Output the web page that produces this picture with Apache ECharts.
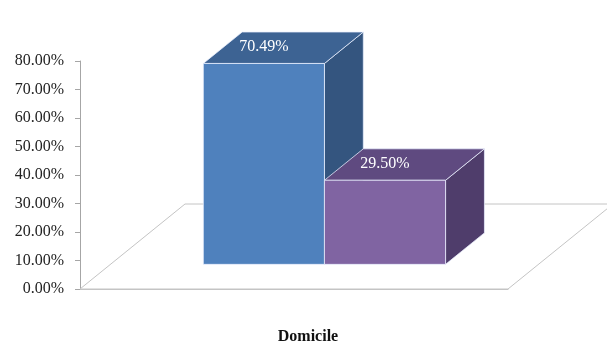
<!DOCTYPE html>
<html>
<head>
<meta charset="utf-8">
<script src="https://cdn.jsdelivr.net/npm/echarts@6/dist/echarts.min.js"></script>
<style>
html,body{margin:0;padding:0;background:#fff;}
#chart{width:607px;height:347px;}
</style>
</head>
<body>
<div id="chart"></div>
<script>
// ---- data ----
const categories = ['Domicile'];
const seriesNames = ['Urban', 'Rural'];
const urbanValues = [70.49];
const ruralValues = [29.50];
const yMin = 0, yMax = 80, yInterval = 10;

// ---- 3D look ----
const SERIF = '"Liberation Serif", "DejaVu Serif", serif';
const DEPTH = { x: 105, y: -85 };   // floor depth vector
const FRONT_FRAC = 0.29;             // bar front position inside floor depth
const BAR_DEPTH_FRAC = 0.37;         // bar depth as fraction of floor depth
const BAR_WIDTH_FRAC = 0.283;        // bar width as fraction of category band
const palettes = [
  { front: '#4f81bd', top: '#3d6393', side: '#34557f' },
  { front: '#8064a2', top: '#5f4a80', side: '#4f3d6b' }
];

function barRenderer(idx) {
  return function (params, api) {
    const cat = api.value(0), val = api.value(1);
    const base = api.coord([cat, 0]);
    const top = api.coord([cat, val]);
    const band = api.size([1, 0])[0];
    const w = band * BAR_WIDTH_FRAC;
    const fx = DEPTH.x * FRONT_FRAC, fy = DEPTH.y * FRONT_FRAC;
    const dx = DEPTH.x * BAR_DEPTH_FRAC, dy = DEPTH.y * BAR_DEPTH_FRAC;
    const x0 = base[0] - w + idx * w + fx;
    const x1 = x0 + w;
    const yb = base[1] + fy;
    const yt = top[1] + fy;
    const c = palettes[idx];
    const edge = { stroke: 'rgba(235,240,255,0.75)', lineWidth: 1 };
    return {
      type: 'group',
      children: [
        { type: 'polygon', shape: { points: [[x1, yt], [x1 + dx, yt + dy], [x1 + dx, yb + dy], [x1, yb]] },
          style: Object.assign({ fill: c.side }, edge) },
        { type: 'polygon', shape: { points: [[x0, yt], [x1, yt], [x1 + dx, yt + dy], [x0 + dx, yt + dy]] },
          style: Object.assign({ fill: c.top }, edge) },
        { type: 'rect', shape: { x: x0, y: yt, width: w, height: yb - yt },
          style: Object.assign({ fill: c.front }, edge) },
        { type: 'text', x: (x0 + x1) / 2, y: yt + dy / 2 - 1,
          style: { text: val.toFixed(2) + '%', fill: '#ffffff', font: '16px ' + SERIF,
                   textAlign: 'center', textVerticalAlign: 'middle' } }
      ]
    };
  };
}

function floorRenderer(params, api) {
  const cs = params.coordSys;
  const xl = cs.x, xr = cs.x + cs.width, yb = cs.y + cs.height;
  return {
    type: 'polygon',
    shape: { points: [[xl, yb], [xr, yb], [xr + DEPTH.x, yb + DEPTH.y], [xl + DEPTH.x, yb + DEPTH.y]] },
    style: { fill: 'none', stroke: '#c4c4c4', lineWidth: 1 }
  };
}

const chart = echarts.init(document.getElementById('chart'), null, { renderer: 'canvas' });
chart.setOption({
  animation: false,
  backgroundColor: '#ffffff',
  grid: { left: 80, right: 99, top: 61, bottom: 58, containLabel: false },
  xAxis: {
    type: 'category',
    data: categories,
    axisLine: { show: true, lineStyle: { color: '#c4c4c4', width: 1 } },
    axisTick: { show: false },
    axisLabel: {
      margin: 40, color: '#111', fontFamily: SERIF, fontSize: 16, fontWeight: 'bold',
      padding: [0, 0, 0, 28]
    }
  },
  yAxis: {
    type: 'value',
    min: yMin, max: yMax, interval: yInterval,
    axisLine: { show: true, lineStyle: { color: '#a6a6a6', width: 1 } },
    axisTick: { show: true, inside: false, length: 5, lineStyle: { color: '#a6a6a6' } },
    splitLine: { show: false },
    axisLabel: {
      margin: 16, color: '#222', fontFamily: SERIF, fontSize: 16,
      formatter: function (v) { return v.toFixed(2) + '%'; }
    }
  },
  series: [
    { type: 'custom', name: 'floor', z: 1, silent: true, renderItem: floorRenderer,
      data: [[0, 0]], encode: { x: 0, y: 1 } },
    { type: 'custom', name: seriesNames[0], z: 2, renderItem: barRenderer(0),
      data: categories.map((c, i) => [i, urbanValues[i]]), encode: { x: 0, y: 1 } },
    { type: 'custom', name: seriesNames[1], z: 3, renderItem: barRenderer(1),
      data: categories.map((c, i) => [i, ruralValues[i]]), encode: { x: 0, y: 1 } }
  ]
});
</script>
</body>
</html>
